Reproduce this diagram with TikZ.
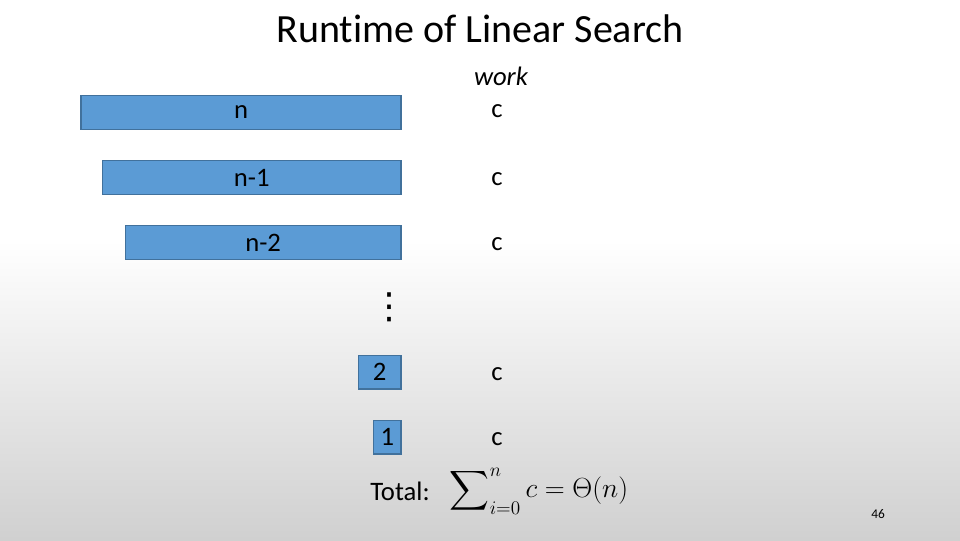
\documentclass[tikz,border=0pt]{standalone}
\usepackage{amsmath}
\usepackage{fontspec}
\setmainfont{Carlito}[Ligatures=NoCommon]
\newfontfamily\symfont{DejaVu Sans}
\usetikzlibrary{positioning}
\definecolor{barblue}{RGB}{91,155,213}
\definecolor{barline}{RGB}{65,113,156}
\definecolor{bggray}{RGB}{208,208,208}
\begin{document}
\begin{tikzpicture}[x=0.75pt, y=-0.75pt,
  bar node/.style={rectangle, draw=barline, fill=barblue, line width=1pt, anchor=east,
    minimum height=25.2pt, inner sep=0pt, font=\fontsize{20}{24}\selectfont},
  work node/.style={font=\fontsize{20}{24}\selectfont}]
  \tikzstyle{every node}=[text=black]

  % background
  \useasboundingbox (0,0) rectangle (960,540);
  \fill[white] (0,0) rectangle (960,540);
  \shade[top color=white, bottom color=bggray] (0,240) rectangle (960,540);

  \node[font=\fontsize{30}{36}\selectfont] (title) at (480,29) {Runtime of Linear Search};

  % the shrinking inputs
  \node[bar node, minimum width=240pt] (n) at (401.7,112.5) {\raisebox{-2pt}{n}};
  \node[bar node, minimum width=224pt] (n1) at (401.7,177.5) {n-1};
  \node[bar node, minimum width=206.8pt] (n2) at (401.7,242.5) {n-2};
  \node[font=\fontsize{27}{30}\symfont, inner sep=0pt] (dots) at (389,307) {⋮};
  \node[bar node, minimum width=32pt] (b2) at (401.7,372.3) {2};
  \node[bar node, minimum width=20.5pt] (b1) at (401.7,437.3) {1};

  % work per level
  \node[work node, font=\fontsize{20}{24}\selectfont\itshape] (work) at (501,76) {work};
  \node[work node] (cn) at (497,111) {c};
  \node[work node] (cn1) at (497,179) {c};
  \node[work node] (cn2) at (497,244) {c};
  \node[work node] (c2) at (497,374) {c};
  \node[work node] (c1) at (497,439) {c};

  \node[work node] (total) at (400,491) {Total:};
  \node[font=\fontsize{20}{24}\selectfont] (sum) at (539,491) {$\displaystyle\sum\nolimits_{i=0}^{n} c=\Theta(n)$};

  \node[font=\fontsize{10}{12}\selectfont] (page) at (878,514) {46};
\end{tikzpicture}
\end{document}
